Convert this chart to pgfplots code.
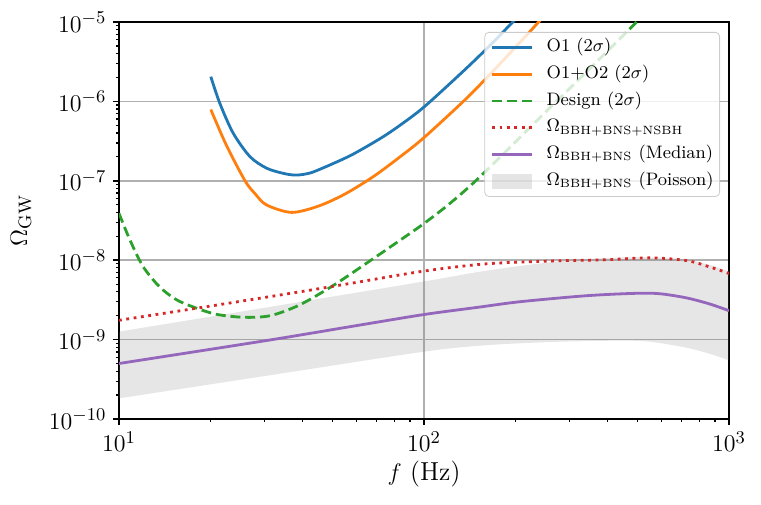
\documentclass[border=0pt]{standalone}
\usepackage{pgfplots}
\pgfplotsset{compat=1.18}
\usepgfplotslibrary{fillbetween}
\usetikzlibrary{calc}

\definecolor{cO1}{HTML}{1F77B4}
\definecolor{cO2}{HTML}{FF7F0E}
\definecolor{cDes}{HTML}{2CA02C}
\definecolor{cAll}{HTML}{D62728}
\definecolor{cMed}{HTML}{9467BD}

\begin{document}
\begin{tikzpicture}
\begin{loglogaxis}[
  scale only axis,
  width=305pt, height=198.5pt,
  xmin=10, xmax=1000,
  ymin=1e-10, ymax=1e-5,
  xtick={10,100,1000},
  ytick={1e-10,1e-9,1e-8,1e-7,1e-6,1e-5},
  grid=major,
  major grid style={color=black!31, line width=0.8pt},
  axis line style={line width=0.8pt},
  tick align=outside, tick pos=left,
  major tick length=2.8pt, minor tick length=1.5pt,
  major tick style={black, line width=0.8pt},
  minor tick style={black, line width=0.6pt},
  tick label style={font=\fontsize{12.5}{14}\selectfont},
  xlabel={$f$ (Hz)},
  ylabel={$\Omega_{\rm GW}$},
  every axis x label/.style={at={(axis description cs:0.5,-0.1537)}, anchor=base,
    font=\fontsize{13}{15}\selectfont},
  every axis y label/.style={at={(axis description cs:-0.1607,0.5)}, rotate=90, anchor=center,
    font=\fontsize{13}{15}\selectfont},
  legend image code/.code={\draw[#1] (0pt,0pt) -- (20pt,0pt);},
  legend cell align=left,
  legend style={at={(1,1)}, anchor=north east, xshift=-4.5pt, yshift=-5pt,
    draw=black!20, fill=white, fill opacity=0.8, text opacity=1,
    rounded corners=2pt, inner xsep=3pt, inner ysep=3pt,
    row sep=4.4pt, column sep=6.5pt,
    font=\fontsize{9}{11}\selectfont,
    nodes={inner sep=0pt, text height=6.6pt, text depth=2.4pt}},
]

% Poisson band (upper and lower edge)
\addplot[name path=up, draw=none, smooth, forget plot] coordinates {
  (10,1.26e-9) (31.6,2.6e-9) (100,5.4e-9) (160.6,7.4e-9) (265,9.5e-9)
  (387,1.06e-8) (551,1.09e-8) (726,1.01e-8) (867,8.7e-9) (1000,7.2e-9)
};
\addplot[name path=lo, draw=none, smooth, forget plot] coordinates {
  (10,1.82e-10) (31.6,3.58e-10) (100,7.05e-10) (160.6,8.5e-10) (265,9.35e-10)
  (440,9.7e-10) (551,9.4e-10) (726,7.9e-10) (867,6.6e-10) (1000,5.5e-10)
};
\addplot[fill=gray, fill opacity=0.2, draw=none, forget plot] fill between[of=up and lo];

% O1
\addplot[cO1, line width=1.4pt, smooth] coordinates {
  (20,2.05e-6) (21.4,9.5e-7) (23.7,3.96e-7) (26.9,2.01e-7) (30.5,1.44e-7)
  (34.6,1.24e-7) (37.8,1.18e-7) (41,1.22e-7) (44.4,1.34e-7) (57.1,2.06e-7)
  (71.8,3.4e-7) (83.4,5.0e-7) (100,8.5e-7) (134.5,2.4e-6) (164,5.0e-6)
  (194,9.7e-6) (215,1.45e-5)
};
\addlegendentry{O1 ($2\sigma$)}

% O1+O2
\addplot[cO2, line width=1.4pt, smooth] coordinates {
  (20,7.9e-7) (22.5,2.8e-7) (25.9,1.0e-7) (28,6.8e-8) (30.5,4.95e-8)
  (36.8,4.0e-8) (45,4.79e-8) (55,6.8e-8) (68,1.12e-7)
  (83.4,2.0e-7) (100,3.5e-7) (136,1.04e-6) (164,2.16e-6) (206.6,5.56e-6)
  (237,9.9e-6) (260,1.47e-5)
};
\addlegendentry{O1+O2 ($2\sigma$)}

% Design
\addplot[cDes, line width=1.4pt, smooth, dash pattern=on 5pt off 2.4pt] coordinates {
  (10,3.9e-8) (10.86,1.8e-8) (12.0,8.3e-9) (13.6,4.6e-9) (15.5,3.15e-9)
  (18.0,2.48e-9) (20.9,2.08e-9) (25.6,1.91e-9) (31.3,2.0e-9) (39,2.72e-9)
  (50.4,4.8e-9) (64.9,9.2e-9) (83.4,1.78e-8) (100,2.9e-8) (121.6,5.19e-8)
  (152.8,1.13e-7) (250,7.3e-7) (350,2.6e-6) (498,1.0e-5) (560,1.6e-5)
};
\addlegendentry{Design ($2\sigma$)}

% BBH+BNS+NSBH
\addplot[cAll, line width=1.4pt, smooth, dash pattern=on 1.4pt off 2.3pt] coordinates {
  (10,1.75e-9) (20,2.65e-9) (39.2,4.0e-9) (60,5.25e-9) (100,7.3e-9)
  (160,9.0e-9) (265,9.8e-9) (387,1.01e-8) (551,1.07e-8) (726,9.9e-9)
  (867,8.2e-9) (1000,6.8e-9)
};
\addlegendentry{$\Omega_{\rm BBH+BNS+NSBH}$}

% BBH+BNS median
\addplot[cMed, line width=1.4pt, smooth] coordinates {
  (10,5.0e-10) (31.3,9.9e-10) (60,1.5e-9) (100,2.07e-9) (150,2.55e-9)
  (206.6,3.0e-9) (341,3.57e-9) (497,3.83e-9) (594,3.78e-9) (726,3.35e-9)
  (867,2.8e-9) (1000,2.31e-9)
};
\addlegendentry{$\Omega_{\rm BBH+BNS}$ (Median)}

\addlegendimage{legend image code/.code={\fill[gray, fill opacity=0.2, draw=none, sharp corners] (0pt,-3.7pt) rectangle (20pt,3.7pt);}}
\addlegendentry{$\Omega_{\rm BBH+BNS}$ (Poisson)}

\coordinate (BL) at (rel axis cs:0,0);
\coordinate (TR) at (rel axis cs:1,1);
\end{loglogaxis}
\pgfresetboundingbox
\useasboundingbox ($(BL)+(-59.5pt,-42.5pt)$) rectangle ($(TR)+(16pt,11pt)$);
\end{tikzpicture}
\end{document}
